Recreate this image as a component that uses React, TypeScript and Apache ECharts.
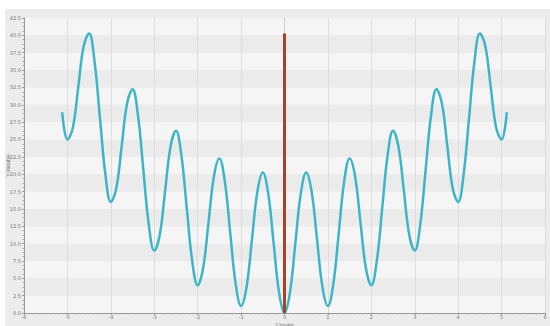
import React, { useEffect, useRef } from "react";
import * as echarts from "echarts";

const xValues = [
  -5.12, -5, -4.875, -4.75, -4.625, -4.5, -4.375, -4.25, -4.125,
  -4, -3.875, -3.75, -3.625, -3.5, -3.375, -3.25, -3.125,
  -3, -2.875, -2.75, -2.625, -2.5, -2.375, -2.25, -2.125,
  -2, -1.875, -1.75, -1.625, -1.5, -1.375, -1.25, -1.125,
  -1, -0.875, -0.75, -0.625, -0.5, -0.375, -0.25, -0.125,
  0, 0.125, 0.25, 0.375, 0.5, 0.625, 0.75, 0.875,
  1, 1.125, 1.25, 1.375, 1.5, 1.625, 1.75, 1.875,
  2, 2.125, 2.25, 2.375, 2.5, 2.625, 2.75, 2.875,
  3, 3.125, 3.25, 3.375, 3.5, 3.625, 3.75, 3.875,
  4, 4.125, 4.25, 4.375, 4.5, 4.625, 4.75, 4.875,
  5, 5.12,
];

const yValues = [
  28.92, 25, 26.7, 32.56, 38.46, 40.25, 36.21, 28.06, 19.95,
  16, 17.95, 24.06, 30.21, 32.25, 28.46, 20.56, 12.7,
  9, 11.2, 17.56, 23.96, 26.25, 22.71, 15.06, 7.45,
  4, 6.45, 13.06, 19.71, 22.25, 18.96, 11.56, 4.2,
  1, 3.7, 10.56, 17.46, 20.25, 17.21, 10.06, 2.95,
  0, 2.95, 10.06, 17.21, 20.25, 17.46, 10.56, 3.7,
  1, 4.2, 11.56, 18.96, 22.25, 19.71, 13.06, 6.45,
  4, 7.45, 15.06, 22.71, 26.25, 23.96, 17.56, 11.2,
  9, 12.7, 20.56, 28.46, 32.25, 30.21, 24.06, 17.95,
  16, 19.95, 28.06, 36.21, 40.25, 38.46, 32.56, 26.7,
  25, 28.92,
];

const spikeX = [0, 0];
const spikeY = [0, 40.25];

const zeroLineX = [0, 0];
const zeroLineY = [0, 42.5];

const xAxisName = "X-Variable";
const yAxisName = "Y-Variable";

export default function App() {
  const ref = useRef<HTMLDivElement>(null);
  useEffect(() => {
    if (!ref.current) return;
    const chart = echarts.init(ref.current, undefined, { renderer: "svg" });
    const axisLabelStyle = { fontSize: 5, color: "#777", fontFamily: "DejaVu Sans" };
    chart.setOption({
      animation: false,
      graphic: [
        {
          type: "rect",
          z: -10,
          silent: true,
          shape: { x: 5, y: 9, width: 545, height: 317 },
          style: { fill: "#ececec" },
        },
      ],
      grid: {
        left: 24,
        right: 5,
        top: 18,
        bottom: 13,
        containLabel: false,
        outerBoundsMode: "none",
      },
      xAxis: {
        type: "value",
        min: -6,
        max: 6,
        interval: 1,
        name: xAxisName,
        nameLocation: "middle",
        nameGap: 9,
        nameMoveOverlap: false,
        nameTextStyle: { fontSize: 4, color: "#777", lineHeight: 4 },
        axisLine: { show: true, onZero: false, lineStyle: { color: "#999", width: 1 } },
        axisTick: { show: true, length: 2, lineStyle: { color: "#999" } },
        minorTick: { show: true, splitNumber: 5, length: 1.5, lineStyle: { color: "#aaa" } },
        axisLabel: { ...axisLabelStyle, margin: 1.5, lineHeight: 5 },
        splitLine: { show: true, lineStyle: { color: "#dcdcdc", width: 1 } },
      },
      yAxis: {
        type: "value",
        min: 0,
        max: 42.5,
        interval: 2.5,
        name: yAxisName,
        nameLocation: "middle",
        nameGap: 14,
        nameMoveOverlap: false,
        nameTextStyle: { fontSize: 5, color: "#777" },
        axisLine: { show: true, onZero: false, lineStyle: { color: "#999", width: 1 } },
        axisTick: { show: true, length: 2, lineStyle: { color: "#999" } },
        minorTick: { show: true, splitNumber: 4, length: 1.5, lineStyle: { color: "#aaa" } },
        axisLabel: { ...axisLabelStyle, margin: 3, formatter: (v: number) => v.toFixed(1) },
        splitLine: { show: false },
        splitArea: { show: true, areaStyle: { color: ["#f5f5f5", "#ebebeb"] } },
      },
      series: [
        {
          type: "line",
          data: zeroLineX.map((x, i) => [x, zeroLineY[i]]),
          symbol: "none",
          silent: true,
          lineStyle: { color: "#cdcdcd", width: 1 },
          z: 2,
        },
        {
          type: "line",
          data: xValues.map((x, i) => [x, yValues[i]]),
          smooth: 0.4,
          symbol: "none",
          lineStyle: { color: "#3db5c9", width: 2.5 },
          z: 3,
        },
        {
          type: "line",
          data: spikeX.map((x, i) => [x, spikeY[i]]),
          symbol: "none",
          lineStyle: { color: "#a8432a", width: 3 },
          z: 4,
        },
      ],
    });
    return () => chart.dispose();
  }, []);
  return (
    <div
      ref={ref}
      style={{ position: "absolute", left: 0, top: 0, width: 550, height: 326 }}
    />
  );
}
